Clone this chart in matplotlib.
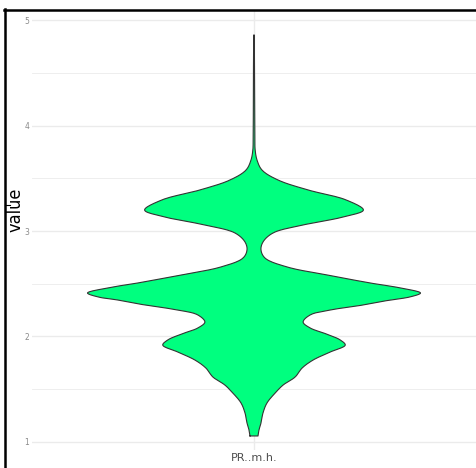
import numpy as np
import matplotlib
matplotlib.use("Agg")
from matplotlib import pyplot as plt
from matplotlib.lines import Line2D

# violin outline: value level and relative density (max = 1)
levels = [1.057, 1.114, 1.180, 1.275, 1.370, 1.464, 1.540, 1.616, 1.701, 1.777,
          1.853, 1.919, 1.967, 2.024, 2.081, 2.137, 2.204, 2.251, 2.299, 2.346,
          2.374, 2.412, 2.460, 2.507, 2.583, 2.659, 2.744, 2.821, 2.896, 2.981,
          3.057, 3.133, 3.199, 3.294, 3.389, 3.483, 3.578, 3.673, 3.768, 3.863,
          4.242, 4.621, 4.858]
density = [0.024, 0.030, 0.042, 0.054, 0.078, 0.127, 0.175, 0.247, 0.289, 0.355,
           0.458, 0.548, 0.518, 0.434, 0.337, 0.295, 0.337, 0.458, 0.657, 0.819,
           0.934, 1.000, 0.880, 0.699, 0.440, 0.199, 0.066, 0.042, 0.054, 0.114,
           0.295, 0.536, 0.657, 0.554, 0.325, 0.145, 0.048, 0.018, 0.007, 0.005,
           0.004, 0.003, 0.002]
category = "PR..m.h."
yticks = [1, 2, 3, 4, 5]


def smooth(px, py, n=12):
	# centripetal catmull-rom through the outline points, just for drawing
	P = np.c_[px, py]
	P = np.vstack([2 * P[0] - P[1], P, 2 * P[-1] - P[-2]])
	out = []
	for i in range(1, len(P) - 2):
		p0, p1, p2, p3 = P[i - 1], P[i], P[i + 1], P[i + 2]
		t0 = 0
		t1 = t0 + np.linalg.norm(p1 - p0) ** 0.5 + 1e-9
		t2 = t1 + np.linalg.norm(p2 - p1) ** 0.5 + 1e-9
		t3 = t2 + np.linalg.norm(p3 - p2) ** 0.5 + 1e-9
		for t in np.linspace(t1, t2, n, endpoint=False):
			a1 = (t1 - t) / (t1 - t0) * p0 + (t - t0) / (t1 - t0) * p1
			a2 = (t2 - t) / (t2 - t1) * p1 + (t - t1) / (t2 - t1) * p2
			a3 = (t3 - t) / (t3 - t2) * p2 + (t - t2) / (t3 - t2) * p3
			b1 = (t2 - t) / (t2 - t0) * a1 + (t - t0) / (t2 - t0) * a2
			b2 = (t3 - t) / (t3 - t1) * a2 + (t - t1) / (t3 - t1) * a3
			out.append((t2 - t) / (t2 - t1) * b1 + (t - t1) / (t2 - t1) * b2)
	out.append(P[-2])
	out = np.array(out)
	return out[:, 0], out[:, 1]


levels = np.array(levels)
density = np.array(density)
hw = density / density.max() * 0.45

# work in roughly pixel-scaled units so the curve is smooth on screen
sx, sy = smooth(hw * 370, levels * 105.5)
sx = np.clip(sx / 370, 0, None)
sy = sy / 105.5

fig = plt.figure(figsize=(4.76, 4.68), dpi=100)
ax = fig.add_axes([32/476, 18/468, 444/476, 440/468])

ax.fill_betweenx(sy, 1 - sx, 1 + sx, facecolor="#00FF7F", edgecolor="none", zorder=3)
ax.plot(np.r_[1 - sx, (1 + sx)[::-1], 1 - sx[0]],
        np.r_[sy, sy[::-1], sy[0]],
        color="#333333", lw=0.8, zorder=4)

ax.set_xlim(0.4, 1.6)
ax.set_ylim(0.924, 5.095)
ax.set_xticks([1])
ax.set_xticklabels([category], fontsize=8, color="#4d4d4d")
ax.set_yticks(yticks)
ax.set_yticklabels([str(v) for v in yticks], fontsize=5.5, color="#8a8a8a")
ax.set_yticks(np.arange(1.5, 5, 1), minor=True)
ax.tick_params(length=0, pad=2)
ax.tick_params(which="minor", length=0)
ax.grid(True, which="major", color="#ebebeb", lw=1.0, zorder=0)
ax.grid(True, which="minor", axis="y", color="#ebebeb", lw=0.6, zorder=0)
for s in ax.spines.values():
	s.set_visible(False)
ax.set_axisbelow(True)

fig.text(16/476, 1 - 210/468, "value", rotation=90, ha="center", va="center",
         fontsize=13, family="DejaVu Sans", stretch="condensed")

# black screenshot frame on top and left
fig.add_artist(Line2D([5/476, 5/476], [0, 1 - 9/468], color="black", lw=1.8,
                      transform=fig.transFigure))
fig.add_artist(Line2D([4/476, 1], [1 - 10/468, 1 - 10/468], color="black", lw=1.8,
                      transform=fig.transFigure))
fig.add_artist(Line2D([5/476, 10/476], [1 - 205/468, 1 - 205/468], color="black", lw=0.8,
                      transform=fig.transFigure))

fig.savefig("out.png", dpi=100)
